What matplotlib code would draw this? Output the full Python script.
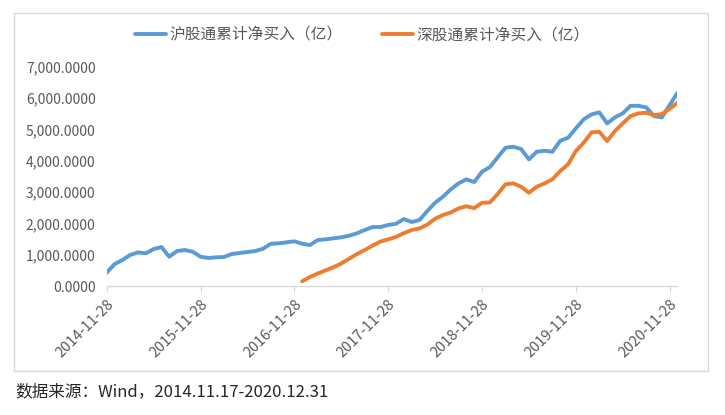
import numpy as np
import matplotlib
matplotlib.use("Agg")
from matplotlib import pyplot as plt
from matplotlib.patches import Rectangle
from matplotlib.ticker import FuncFormatter

plt.rcParams['font.family'] = ['Noto Sans CJK SC', 'DejaVu Sans']

# monthly cumulative net buying, 2014-11 .. 2020-12 (74 months)
sh_values = [425, 700, 830, 990, 1075, 1045, 1180, 1245, 936, 1118,
             1150, 1096, 936, 895, 917, 927, 1022, 1054, 1086, 1118,
             1192, 1351, 1364, 1396, 1428, 1351, 1310, 1470, 1492, 1524,
             1556, 1607, 1684, 1789, 1885, 1885, 1949, 1990, 2140, 2045,
             2109, 2396, 2661, 2853, 3089, 3281, 3409, 3323, 3652, 3800,
             4111, 4419, 4451, 4377, 4048, 4291, 4323, 4291, 4642, 4738,
             5038, 5326, 5486, 5550, 5198, 5390, 5518, 5760, 5760, 5709,
             5431, 5390, 5783, 6176]
# shenzhen connect starts 2016-12 (month index 25)
sz_start = 25
sz_values = [150, 290, 400, 500, 600, 720, 870, 1020, 1150, 1290,
             1420, 1490, 1570, 1690, 1790, 1840, 1960, 2150, 2270, 2350,
             2480, 2550, 2490, 2660, 2670, 2939, 3249, 3281, 3173, 2981,
             3173, 3281, 3409, 3674, 3888, 4313, 4578, 4911, 4930, 4633,
             4952, 5198, 5431, 5518, 5537, 5463, 5495, 5665, 5856]
tick_labels = ["2014-11-28", "2015-11-28", "2016-11-28", "2017-11-28",
               "2018-11-28", "2019-11-28", "2020-11-28"]
sh_name = "沪股通累计净买入（亿）"
sz_name = "深股通累计净买入（亿）"
source = "数据来源：Wind，2014.11.17-2020.12.31"

W, H = 725, 415
fig = plt.figure(figsize=(W / 100, H / 100), dpi=100)
ax = fig.add_axes([106.7 / W, 1 - 286 / H, (677.5 - 106.7) / W, (286 - 67) / H])

x_sh = np.arange(len(sh_values))
x_sz = np.arange(sz_start, sz_start + len(sz_values))
l1, = ax.plot(x_sh, sh_values, color='#5B9BD5', linewidth=2.8, solid_capstyle='round', label=sh_name)
l2, = ax.plot(x_sz, sz_values, color='#ED7D31', linewidth=2.8, solid_capstyle='round', label=sz_name)

ax.set_xlim(0, len(sh_values) - 1)
ax.set_ylim(0, 7000)
ax.set_yticks(np.arange(0, 7001, 1000))
ax.yaxis.set_major_formatter(FuncFormatter(lambda v, p: "{:,.4f}".format(v)))
ax.set_xticks(np.arange(0, len(sh_values), 12))
ax.set_xticklabels(tick_labels, rotation=45, ha='right', rotation_mode='anchor')

for s in ['top', 'right', 'left']:
    ax.spines[s].set_visible(False)
ax.spines['bottom'].set_color('#d9d9d9')
ax.spines['bottom'].set_linewidth(1.0)
ax.tick_params(axis='y', length=0, pad=8, labelsize=10, labelcolor='#595959')
ax.tick_params(axis='x', length=4, color='#d9d9d9', pad=4, labelsize=10.5, labelcolor='#595959')

fig.legend(handles=[l1, l2], loc='center', bbox_to_anchor=(362 / W, 1 - 35 / H),
           ncol=2, frameon=False, fontsize=11.3, labelcolor='#595959',
           handlelength=2.0, handletextpad=0.2, columnspacing=2.5)

fig.patches.append(Rectangle((14.3 / W, 1 - 371 / H), (708.3 - 14.3) / W, (371 - 13.3) / H,
                             transform=fig.transFigure, fill=False,
                             edgecolor='#d9d9d9', linewidth=1.0))
fig.text(15 / W, 1 - 392 / H, source, fontsize=12, color='#262626', va='center', ha='left')

fig.savefig("out.png", dpi=100)
